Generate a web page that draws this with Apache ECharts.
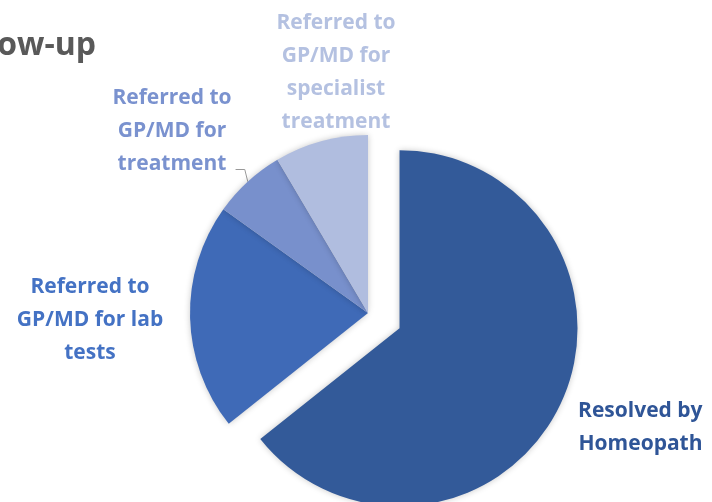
<!DOCTYPE html>
<html>
<head>
<meta charset="utf-8">
<script src="https://cdn.jsdelivr.net/npm/echarts@6/dist/echarts.min.js"></script>
<style>
  html, body { margin: 0; padding: 0; background: #fff; }
  #chart { width: 712px; height: 502px; }
</style>
</head>
<body>
<div id="chart"></div>
<script>
// slice names (with line breaks as shown in the labels)
const categories = [
  'Resolved by\nHomeopath',
  'Referred to\nGP/MD for lab\ntests',
  'Referred to\nGP/MD for\ntreatment',
  'Referred to\nGP/MD for\nspecialist\ntreatment'
]
// share of cases (%)
const values = [64.3, 20.6, 6.6, 8.5]

const sliceColors = ['#335A99', '#3F6AB7', '#7890CC', '#B0BDDF']
const labelColors = ['#2F5597', '#4472C4', '#7A92CF', '#B4C1E1']
// where the left-hand label blocks sit (centre of text block);
// the exploded slice keeps the library's own outside placement
const labelPos = [null, [90, 320], [172, 131], [336, 73]]
const LINE_H = 33

const chart = echarts.init(document.getElementById('chart'))
chart.setOption({
  title: {
    text: 'Follow-up',
    right: 616,
    top: 30,
    padding: 0,
    textStyle: { fontFamily: 'Open Sans', fontWeight: 'bold', fontSize: 32, color: '#595959' }
  },
  series: [{
    type: 'pie',
    center: [368, 313],
    radius: 178,
    startAngle: 90,
    selectedMode: 'single',
    selectedOffset: 35,
    animation: false,
    itemStyle: {
      shadowBlur: 6,
      shadowColor: 'rgba(0,0,0,0.22)'
    },
    label: {
      show: true,
      fontFamily: 'Open Sans',
      fontWeight: 'bold',
      fontSize: 21,
      lineHeight: LINE_H,
      align: 'center',
      overflow: 'none'
    },
    labelLine: { show: false, lineStyle: { color: '#999999', width: 1 } },
    labelLayout: function (params) {
      const p = labelPos[params.dataIndex]
      if (!p) return {}
      const out = { x: p[0], y: p[1], align: 'center', verticalAlign: 'middle' }
      if (params.dataIndex === 2 && params.labelLinePoints) {
        // leader: from the arc, a short kink, then across to the last text line
        const anchor = params.labelLinePoints[0]
        const right = p[0] + params.labelRect.width / 2 + 4
        const yLine = p[1] + params.labelRect.height / 2 - 11
        out.labelLinePoints = [anchor, [anchor[0] - 3, yLine], [right, yLine]]
      }
      return out
    },
    data: categories.map(function (name, i) {
      const item = {
        name: name,
        value: values[i],
        selected: i === 0,
        itemStyle: { color: sliceColors[i] },
        label: { color: labelColors[i] },
        labelLine: { show: i === 2 }
      }
      if (i === 0) {
        item.label.alignTo = 'edge'
        item.label.edgeDistance = 41
        item.labelLine.length = 50
      }
      return item
    })
  }]
})
</script>
</body>
</html>
